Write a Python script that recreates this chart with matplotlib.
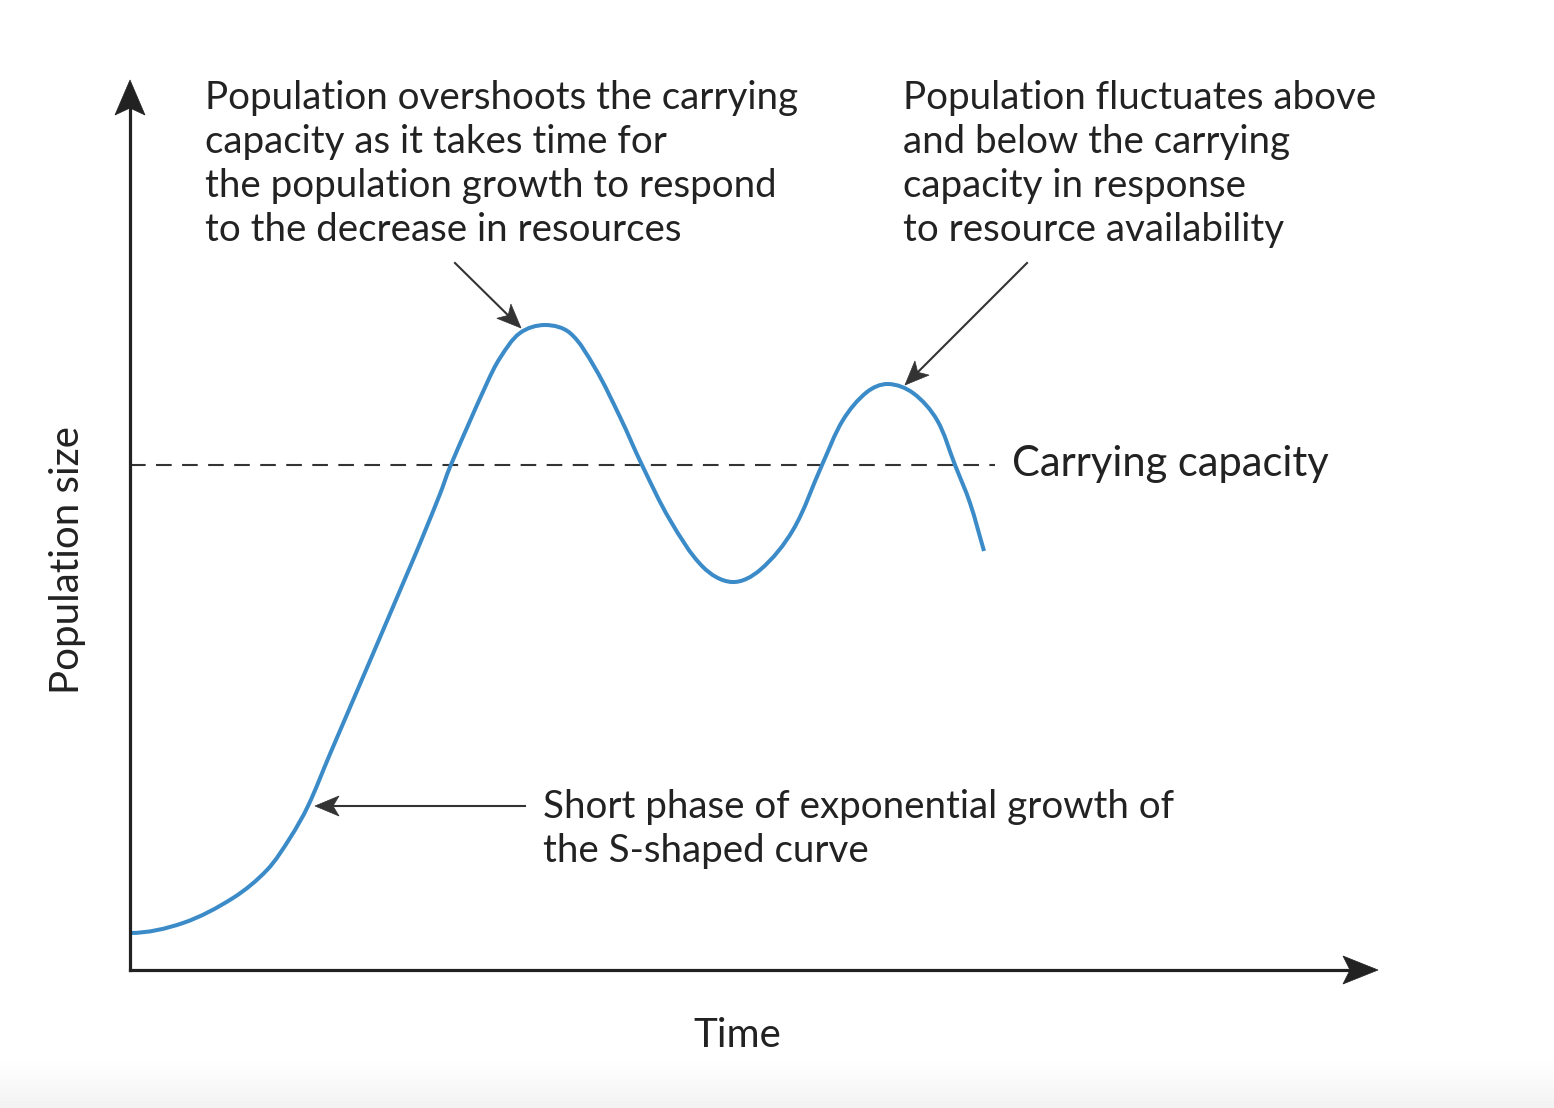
import matplotlib
matplotlib.use("Agg")
import matplotlib.pyplot as plt
from matplotlib.patches import Polygon, PathPatch
from matplotlib.path import Path
import numpy as np

# curve (time, population size), arbitrary units
time = [0.0, 5.3, 10.3, 13.7, 16.0, 17.8, 20.0, 28.3, 31.0, 32.0,
        35.7, 37.0, 39.0, 41.5, 44.0, 46.5, 49.0, 51.2, 54.0, 57.3,
        60.2, 63.0, 66.3, 69.2, 71.3, 73.7, 75.8, 78.3,
        80.7, 82.5, 84.0, 85.4]
population = [3.7, 4.7, 7.2, 10.0, 13.2, 16.4, 21.6, 41.0, 47.6, 50.3,
              58.7, 61.2, 63.7, 64.5, 63.7, 60.2, 55.3, 50.5, 45.0, 40.3,
              38.8, 40.0, 44.0, 50.5, 55.0, 57.8, 58.6, 57.7,
              55.0, 50.5, 46.7, 41.9]
carrying_capacity = 50.5
capacity_end = 86.5

x_max, y_max = 124.8, 89.0

note_overshoot = ["Population overshoots the carrying",
                  "capacity as it takes time for",
                  "the population growth to respond",
                  "to the decrease in resources"]
note_fluctuate = ["Population fluctuates above",
                  "and below the carrying",
                  "capacity in response",
                  "to resource availability"]
note_exponential = ["Short phase of exponential growth of",
                    "the S-shaped curve"]

TXT = "#222222"
ARROW = "#333333"
BLUE = "#3b8bc8"
FONT = ["Lato", "DejaVu Sans"]
NOTE_SIZE = 27.7


def smooth_path(xs, ys):
    # smooth curve through the read points, handles scaled by segment length
    p = np.column_stack([xs, ys]).astype(float)
    n = len(p)
    tang = np.zeros_like(p)
    tang[0] = p[1] - p[0]
    tang[-1] = p[-1] - p[-2]
    tang[1:-1] = p[2:] - p[:-2]
    tang /= np.hypot(tang[:, 0], tang[:, 1])[:, None]
    tang[0] = [1.0, 0.0]  # curve leaves the y axis flat
    verts = [p[0]]
    codes = [Path.MOVETO]
    for i in range(n - 1):
        seg = np.hypot(*(p[i + 1] - p[i])) / 3
        verts += [p[i] + tang[i] * seg, p[i + 1] - tang[i + 1] * seg, p[i + 1]]
        codes += [Path.CURVE4] * 3
    return Path(verts, codes)


def arrow_head(ax, tip, tail, length, half_w, notch, color, z=5):
    tip = np.array(tip, float)
    d = tip - np.array(tail, float)
    d /= np.hypot(*d)
    n = np.array([-d[1], d[0]])
    base = tip - d * length
    pts = [tip, base + n * half_w, tip - d * (length - notch), base - n * half_w]
    ax.add_patch(Polygon(pts, closed=True, fc=color, ec=color, lw=0.5,
                         clip_on=False, zorder=z))
    return tip - d * (length - notch)


def pointer(ax, tail, tip):
    end = arrow_head(ax, tip, tail, 2.4, 1.0, 0.6, ARROW)
    ax.plot([tail[0], end[0]], [tail[1], end[1]], color=ARROW, lw=1.5,
            clip_on=False, zorder=4)


fig = plt.figure(figsize=(15.54, 11.08), dpi=100)

# faint grey band at the very bottom
bg = fig.add_axes([0, 0, 1, 50 / 1108])
grad = np.linspace(1.0, 0.95, 50).reshape(-1, 1)
bg.imshow(grad, cmap="gray", vmin=0, vmax=1, aspect="auto", extent=[0, 1, 0, 1])
bg.axis("off")

ax = fig.add_axes([130 / 1554, 138 / 1108, 1248 / 1554, 890 / 1108])
ax.set_xlim(0, x_max)
ax.set_ylim(0, y_max)
ax.axis("off")

# axes with arrow heads
yend = arrow_head(ax, (0, y_max), (0, 0), 3.5, 1.5, 0.7, TXT)
xend = arrow_head(ax, (x_max, 0), (0, 0), 3.5, 1.4, 0.7, TXT)
ax.plot([0, 0], [0, yend[1]], color=TXT, lw=2.3, clip_on=False,
        solid_capstyle="projecting", zorder=4)
ax.plot([0, xend[0]], [0, 0], color=TXT, lw=2.3, clip_on=False,
        solid_capstyle="projecting", zorder=4)

# carrying capacity
ax.plot([0, capacity_end], [carrying_capacity, carrying_capacity],
        color=ARROW, lw=1.5, dashes=(7.5, 5), zorder=2)
ax.text(88.2, carrying_capacity - 1.1, "Carrying capacity", fontsize=30,
        family=FONT, color=TXT, va="baseline", ha="left")

# population curve
ax.add_patch(PathPatch(smooth_path(time, population), fill=False, ec=BLUE,
                       lw=2.9, joinstyle="round", capstyle="butt", zorder=3))

# notes
for i, line in enumerate(note_overshoot):
    ax.text(7.5, 86.1 - 4.4 * i, line, fontsize=NOTE_SIZE, family=FONT,
            color=TXT, va="baseline", ha="left")
for i, line in enumerate(note_fluctuate):
    ax.text(77.3, 86.1 - 4.4 * i, line, fontsize=NOTE_SIZE, family=FONT,
            color=TXT, va="baseline", ha="left")
for i, line in enumerate(note_exponential):
    ax.text(41.3, 15.2 - 4.4 * i, line, fontsize=NOTE_SIZE, family=FONT,
            color=TXT, va="baseline", ha="left")

pointer(ax, (32.5, 70.7), (39.1, 64.2))
pointer(ax, (89.7, 70.7), (77.5, 58.5))
pointer(ax, (39.5, 16.4), (18.5, 16.4))

# axis titles
ax.text(60.7, -7.7, "Time", fontsize=29, family=FONT, color=TXT,
        ha="center", va="baseline")
ax.text(-6.3, 41.0, "Population size", fontsize=29, family=FONT, color=TXT,
        ha="center", va="center", rotation=90)

fig.savefig("out.png", dpi=100, facecolor="white")
